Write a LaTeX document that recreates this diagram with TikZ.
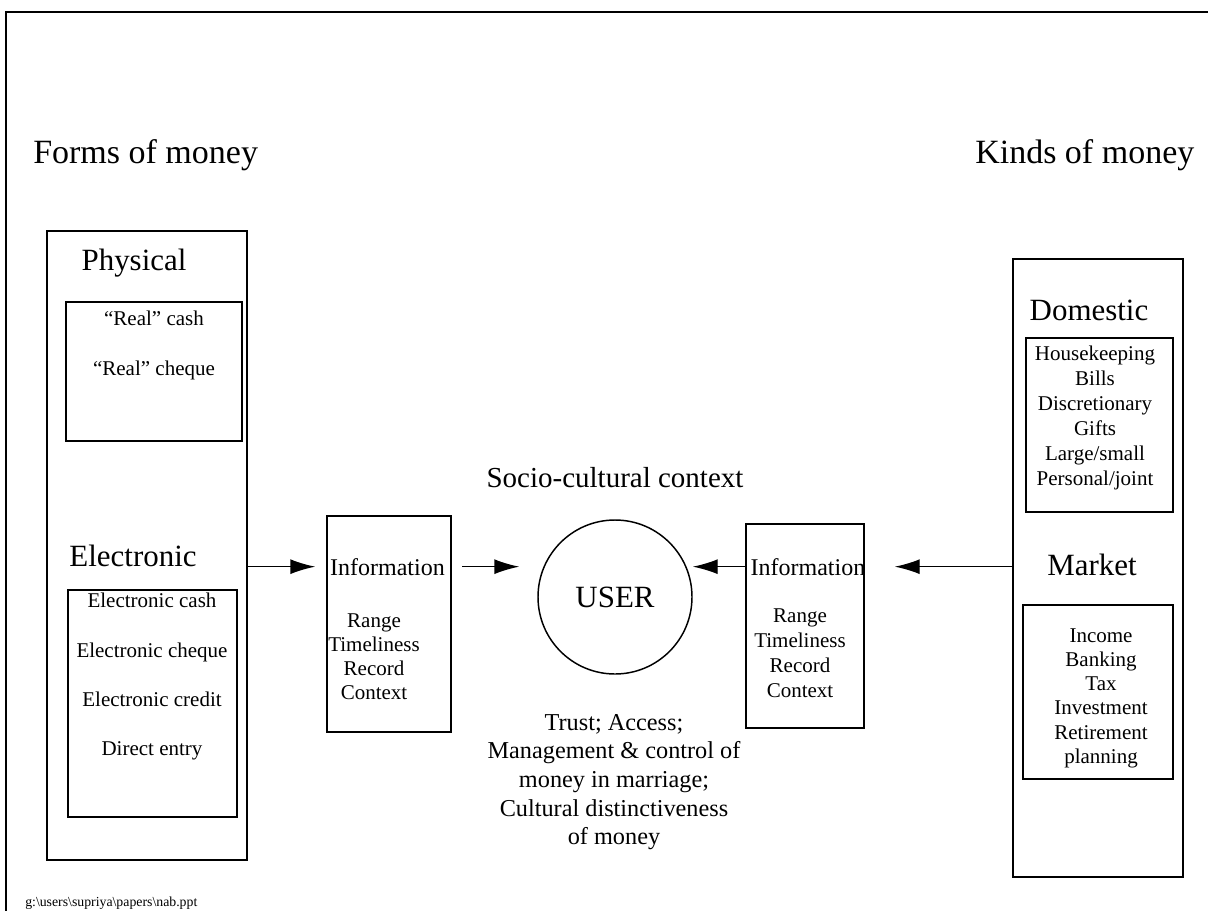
\documentclass[tikz,border=0pt]{standalone}
\usepackage{fontspec}
\setmainfont{Liberation Serif}
\usetikzlibrary{arrows.meta}

\tikzset{
  box/.style={draw, line width=1.1pt, inner sep=0pt},
  title/.style={font=\fontsize{25.5pt}{30pt}\selectfont, inner sep=0pt},
  head/.style={font=\fontsize{23.2pt}{28pt}\selectfont, inner sep=0pt},
  info/.style={font=\fontsize{18pt}{22pt}\selectfont, inner sep=0pt},
  item/.style={align=center, inner sep=0pt, anchor=north},
}

\begin{document}
\begin{tikzpicture}[x=0.75pt, y=-0.75pt, >={Latex[length=18.75pt,width=11.25pt]}]
\useasboundingbox (0,0) rectangle (1208,911);

% page frame
\draw[line width=2pt] (6,911) -- (6,12) -- (1208,12);

\node[title, anchor=base west] (forms-t) at (33,163) {Forms of money};
\node[title, anchor=base west] (kinds-t) at (975,163) {Kinds of money};

% forms of money
\node[box, minimum width=150pt, minimum height=471.75pt] (forms) at (147,545.5) {};
\node[head, anchor=base] (phys-t) at (134,270) {Physical};
\node[box, minimum width=132pt, minimum height=104.25pt] (phys) at (154,371.5) {};
\node[item, font=\fontsize{15.75pt}{37.5pt}\selectfont] (phys-i) at (154,311)
  {“Real” cash\\“Real” cheque};
\node[head, anchor=base] (elec-t) at (133,566) {Electronic};
\node[box, minimum width=126.75pt, minimum height=170.25pt] (elec) at (152.5,703.5) {};
\node[item, font=\fontsize{15.75pt}{37pt}\selectfont] (elec-i) at (152,593)
  {Electronic cash\\Electronic cheque\\Electronic credit\\Direct entry};

% information, left
\node[box, minimum width=93pt, minimum height=162pt] (infoL) at (389,624) {};
\node[info, anchor=base] (infoL-t) at (387.5,575) {Information};
\node[item, font=\fontsize{15.75pt}{18.2pt}\selectfont] (infoL-i) at (374,613)
  {Range\\Timeliness\\Record\\Context};

% user
\node[head, anchor=base, font=\fontsize{21.75pt}{26pt}\selectfont] (socio) at (615,487) {Socio-cultural context};
\node[draw, circle, line width=1.1pt, inner sep=0pt, minimum size=115.5pt, head] (user) at (615,597) {USER};
\node[item, font=\fontsize{18.2pt}{21.5pt}\selectfont] (issues) at (614,714)
  {Trust; Access;\\Management \& control of\\money in marriage;\\Cultural distinctiveness\\of money};

% information, right
\node[box, minimum width=88.5pt, minimum height=153pt] (infoR) at (805,626) {};
\node[info, anchor=base] (infoR-t) at (808,575) {Information};
\node[item, font=\fontsize{15.75pt}{18.75pt}\selectfont] (infoR-i) at (800,608)
  {Range\\Timeliness\\Record\\Context};

% kinds of money
\node[box, minimum width=127.5pt, minimum height=463.5pt] (kinds) at (1098,568) {};
\node[head, anchor=base] (dom-t) at (1089,320) {Domestic};
\node[box, minimum width=110.25pt, minimum height=130.5pt] (dom) at (1099.5,425) {};
\node[item, font=\fontsize{15.75pt}{18.75pt}\selectfont] (dom-i) at (1095,346)
  {Housekeeping\\Bills\\Discretionary\\Gifts\\Large/small\\Personal/joint};
\node[head, anchor=base] (mkt-t) at (1092,575) {Market};
\node[box, minimum width=112.5pt, minimum height=130.5pt] (mkt) at (1098,692) {};
\node[item, font=\fontsize{15.75pt}{18.2pt}\selectfont] (mkt-i) at (1101,628)
  {Income\\Banking\\Tax\\Investment\\Retirement\\planning};

\node[anchor=base west, inner sep=0pt, font=\fontsize{10.35pt}{12pt}\selectfont] (file) at (25,906)
  {g:\textbackslash{}users\textbackslash{}supriya\textbackslash{}papers\textbackslash{}nab.ppt};

% flows
\draw[->, line width=1.1pt, shorten >=8.25pt] (forms.east |- infoL-t.west) -- (infoL.west |- infoL-t.west);
\draw[->, line width=1.1pt, shorten <=12.75pt, shorten >=13.5pt] (infoL-t.east) -- (user.west |- infoL-t.east);
\draw[->, line width=1.1pt] (infoR.west |- infoR-t.west) -- (user.east |- infoR-t.west);
\draw[->, line width=1.1pt, shorten >=22.5pt] (kinds.west |- infoR-t.west) -- (infoR.east |- infoR-t.west);
\end{tikzpicture}
\end{document}
